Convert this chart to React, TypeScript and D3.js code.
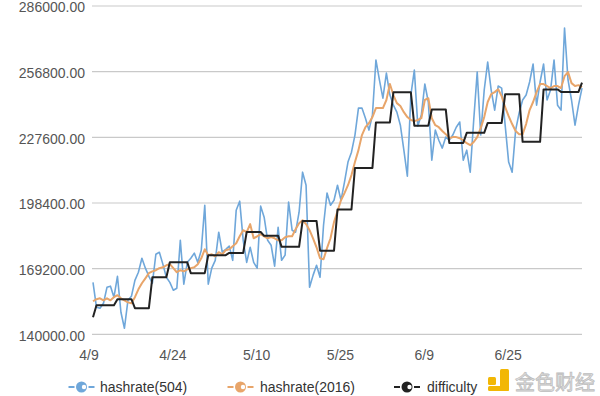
import * as d3 from "d3";

// x positions are sample indexes; tick labels sit on every 24th sample
const tickLabels = ["4/9", "4/24", "5/10", "5/25", "6/9", "6/25"];
const tickIndex = [0, 24, 48, 72, 96, 120];

// y axis ticks, in thousands
const yTicks = [140, 169.2, 198.4, 227.6, 256.8, 286];

// values in thousands
const hashrate504 = [
  163.1, 152.0, 151.6, 153.8, 160.9, 161.4, 156.5, 165.8, 149.8, 142.7,
  155.1, 156.9, 164.0, 167.6, 173.8, 169.4, 165.8, 162.7, 175.6, 176.5,
  171.2, 165.4, 163.1, 159.6, 160.5, 181.8, 162.3, 172.0, 173.8, 176.1,
  172.0, 177.4, 197.4, 162.3, 169.4, 172.9, 185.4, 176.5, 177.8, 179.2,
  172.9, 195.2, 199.2, 181.8, 172.0, 178.7, 172.0, 169.4, 197.0, 192.1,
  181.8, 179.6, 170.3, 187.6, 172.9, 175.2, 198.8, 186.3, 185.4, 194.3,
  212.1, 206.3, 160.9, 166.2, 170.7, 165.4, 188.5, 202.8, 197.4, 199.6,
  206.3, 199.6, 207.7, 216.6, 221.0, 228.6, 240.6, 240.6, 236.1, 230.8,
  237.5, 262.0, 253.1, 245.0, 256.2, 246.4, 241.9, 238.8, 233.0, 221.9,
  210.3, 246.4, 257.5, 232.6, 237.5, 251.3, 243.3, 217.4, 230.8, 226.3,
  222.8, 227.7, 226.3, 228.6, 232.1, 234.4, 217.4, 221.9, 212.1, 235.3,
  256.6, 228.6, 248.6, 261.1, 248.6, 239.7, 250.4, 249.5, 233.0, 216.6,
  212.1, 230.8, 238.4, 244.2, 246.4, 252.2, 260.2, 241.9, 252.2, 260.2,
  244.2, 248.6, 262.0, 241.9, 239.7, 276.2, 253.1, 244.2, 233.0, 241.9,
  249.5,
];

const hashrate2016 = [
  154.7, 155.6, 156.0, 155.1, 156.0, 155.1, 156.5, 157.4, 156.0, 155.1,
  154.2, 153.8, 156.5, 160.0, 162.7, 164.9, 167.2, 168.0, 168.5, 169.4,
  169.8, 170.7, 171.2, 169.4, 167.6, 168.5, 168.0, 168.9, 169.4, 169.8,
  171.2, 173.8, 177.8, 175.2, 175.6, 174.7, 176.5, 175.6, 177.4, 177.8,
  179.2, 180.5, 183.6, 186.3, 185.4, 189.0, 182.7, 183.6, 184.5, 183.6,
  182.7, 183.2, 182.7, 181.8, 181.8, 183.2, 183.6, 183.6, 186.7, 189.4,
  190.7, 189.0, 186.3, 182.7, 178.7, 173.8, 173.4, 178.3, 182.7, 189.9,
  194.7, 199.6, 202.8, 206.3, 210.8, 216.6, 221.9, 228.6, 232.1, 233.9,
  236.6, 240.6, 240.6, 240.6, 244.2, 251.3, 246.4, 242.8, 241.5, 238.8,
  236.6, 235.3, 234.8, 235.3, 236.1, 244.2, 245.0, 236.1, 233.0, 232.1,
  230.4, 229.0, 227.2, 227.7, 227.7, 227.2, 226.3, 225.0, 224.1, 225.5,
  227.7, 231.7, 236.6, 243.3, 246.8, 247.7, 249.0, 245.9, 241.0, 237.0,
  233.5, 230.4, 229.0, 229.0, 233.5, 239.7, 243.3, 247.7, 251.3, 251.3,
  250.4, 249.5, 250.4, 250.4, 249.5, 254.8, 256.6, 251.7, 250.4, 250.8,
  249.9,
];

const difficulty = [
  147.6, 152.9, 152.9, 152.9, 152.9, 152.9, 152.9, 155.6, 155.6, 155.6,
  155.6, 155.6, 151.6, 151.6, 151.6, 151.6, 151.6, 165.4, 165.4, 165.4,
  165.4, 165.4, 172.0, 172.0, 172.0, 172.0, 172.0, 172.0, 167.2, 167.2,
  167.2, 167.2, 167.2, 175.2, 175.2, 175.2, 175.2, 175.2, 175.2, 176.2,
  176.2, 176.2, 176.2, 176.2, 185.5, 185.5, 185.5, 185.5, 185.5, 183.8,
  183.8, 183.8, 183.8, 183.8, 178.9, 178.9, 178.9, 178.9, 178.9, 178.9,
  190.4, 190.4, 190.4, 190.4, 190.4, 177.2, 177.2, 177.2, 177.2, 177.2,
  195.5, 195.5, 195.5, 195.5, 195.5, 214.0, 214.0, 214.0, 214.0, 214.0,
  214.0, 234.2, 234.2, 234.2, 234.2, 234.2, 247.6, 247.6, 247.6, 247.6,
  247.6, 247.6, 232.8, 232.8, 232.8, 232.8, 232.8, 240.0, 240.0, 240.0,
  240.0, 240.0, 225.1, 225.1, 225.1, 225.1, 225.1, 229.6, 229.6, 229.6,
  229.6, 229.6, 229.6, 234.0, 234.0, 234.0, 234.0, 234.0, 246.8, 246.8,
  246.8, 246.8, 246.8, 225.6, 225.6, 225.6, 225.6, 225.6, 225.6, 248.9,
  248.9, 248.9, 248.9, 248.9, 247.8, 247.8, 247.8, 247.8, 247.8, 247.8,
  251.9,
];

const seriesNames = ["hashrate(504)", "hashrate(2016)", "difficulty"];
const seriesColors = ["#6fa7da", "#e8a56a", "#222222"];

const font = "'Liberation Sans', Arial, Helvetica, sans-serif";

export default function App() {
  const width = 600;
  const height = 396;
  const plotLeft = 92;
  const plotRight = 582;

  const x = d3.scaleLinear().domain([0, hashrate504.length - 1]).range([93, plotRight]);
  const y = d3.scaleLinear().domain([140, 286]).range([334.3, 6]);

  const line = d3
    .line<number>()
    .x((_, i) => x(i))
    .y((d) => y(d));

  const series = [hashrate504, hashrate2016, difficulty];
  const widths = [1.6, 2, 2];

  // legend layout
  const legendIcon = [81.5, 240.5, 407];
  const legendText = [100, 260, 427];

  return (
    <div style={{ position: "absolute", left: 0, top: 0 }}>
      <svg width={width} height={height} style={{ display: "block", background: "#fff" }}>
        {yTicks.map((t) => (
          <g key={t}>
            <line x1={plotLeft} x2={plotRight} y1={y(t)} y2={y(t)} stroke="#c9c9c9" strokeWidth={1.2} />
            <text
              x={85}
              y={y(t)}
              dy="0.45em"
              textAnchor="end"
              fontFamily={font}
              fontSize={14}
              fill="#555"
            >
              {(t * 1000).toFixed(2)}
            </text>
          </g>
        ))}

        {tickIndex.map((idx, k) => (
          <text
            key={idx}
            x={x(idx) - 4}
            y={360}
            textAnchor="middle"
            fontFamily={font}
            fontSize={14}
            fill="#555"
          >
            {tickLabels[k]}
          </text>
        ))}

        {series.map((s, k) => (
          <path
            key={k}
            d={line(s) || ""}
            fill="none"
            stroke={seriesColors[k]}
            strokeWidth={widths[k]}
            strokeLinejoin="round"
          />
        ))}

        <g>
          {seriesNames.map((name, k) => (
            <g key={name}>
              <line x1={legendIcon[k] - 13} x2={legendIcon[k] - 7} y1={387} y2={387} stroke={seriesColors[k]} strokeWidth={2} />
              <line x1={legendIcon[k] + 7} x2={legendIcon[k] + 13} y1={387} y2={387} stroke={seriesColors[k]} strokeWidth={2} />
              <circle cx={legendIcon[k]} cy={387} r={5.5} fill={seriesColors[k]} />
              <circle cx={legendIcon[k] + 2.5} cy={387} r={2.2} fill="#fff" />
              <text x={legendText[k]} y={392} fontFamily={font} fontSize={14} fill="#333">
                {name}
              </text>
            </g>
          ))}
        </g>

        {/* watermark */}
        <g>
          <rect x={488} y={377} width={8} height={8} rx={1.5} fill="#f2b705" />
          <rect x={500} y={369} width={9} height={22} rx={1.5} fill="#f2b705" />
          <rect x={488} y={386} width={21} height={5} rx={1.5} fill="#f2b705" />
          <text
            x={515}
            y={390}
            fontFamily="'Noto Sans CJK SC', sans-serif"
            fontSize={20}
            fill="#e6e6e6"
            stroke="#bdbdbd"
            strokeWidth={0.8}
          >
            金色财经
          </text>
        </g>
      </svg>
    </div>
  );
}
